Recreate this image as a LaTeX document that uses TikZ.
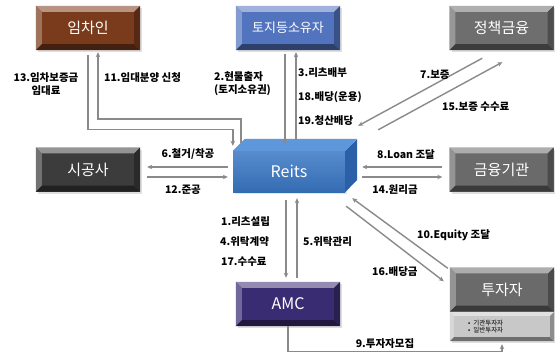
\documentclass[tikz,border=0pt]{standalone}
\usepackage{fontspec}
\setmainfont{Noto Sans CJK KR}
\usetikzlibrary{arrows.meta,shadows}
\definecolor{cBrown}{HTML}{7A3B1C}
\definecolor{cBlue}{HTML}{5274BE}
\definecolor{cPol}{HTML}{6E6E6E}
\definecolor{cDark}{HTML}{3C3C3C}
\definecolor{cBank}{HTML}{6A6A6A}
\definecolor{cAMC}{HTML}{3A2C72}
\definecolor{cInv}{HTML}{6A6A6A}
\definecolor{cSub}{HTML}{C8C8C8}
\definecolor{cLine}{HTML}{8A8A8A}
\definecolor{cRfront}{HTML}{3A78C6}
\definecolor{cRtop}{HTML}{5E97DA}
\definecolor{cRside}{HTML}{2B5FA8}
\newcommand\bevel[3]{%
 \fill[#2!55!white] (#1.north west) -- (#1.north east) -- ([xshift=-#3,yshift=-#3]#1.north east) -- ([xshift=#3,yshift=-#3]#1.north west) -- cycle;
 \fill[#2!72!white] (#1.north west) -- ([xshift=#3,yshift=-#3]#1.north west) -- ([xshift=#3,yshift=#3]#1.south west) -- (#1.south west) -- cycle;
 \fill[#2!55!black] (#1.south west) -- ([xshift=#3,yshift=#3]#1.south west) -- ([xshift=-#3,yshift=#3]#1.south east) -- (#1.south east) -- cycle;
 \fill[#2!70!black] (#1.north east) -- (#1.south east) -- ([xshift=-#3,yshift=#3]#1.south east) -- ([xshift=-#3,yshift=-#3]#1.north east) -- cycle;
}
\begin{document}
\begin{tikzpicture}[x=1pt,y=-1pt,
  box/.style={minimum width=104pt, minimum height=44pt, inner sep=0pt, text=white,
    font=\fontsize{15}{17}\selectfont,
    drop shadow={shadow xshift=2pt, shadow yshift=-2pt, opacity=0.25}},
  sub/.style={minimum width=104pt, minimum height=29pt, inner sep=0pt, fill=cSub,
    font=\fontsize{6.5}{8}\selectfont, align=left,
    drop shadow={shadow xshift=2pt, shadow yshift=-2pt, opacity=0.25}},
  arr/.style={draw=cLine, line width=1.4pt, -{Stealth[length=5pt,width=4.5pt]}},
  lbl/.style={inner sep=0pt, font=\fontsize{10.5}{13}\selectfont\bfseries, text=black}]
\useasboundingbox (0,0) rectangle (555,354);
\fill[white] (0,0) rectangle (555,354);

% boxes
\node[box, fill=cBrown] (tenant) at (88,28) {임차인};
\bevel{tenant}{cBrown}{6pt}
\node[box, fill=cBlue, font=\fontsize{13}{15}\selectfont] (owner) at (288,28) {토지등소유자};
\bevel{owner}{cBlue}{6pt}
\node[box, fill=cPol] (policy) at (501.5,28) {정책금융};
\bevel{policy}{cPol}{6pt}
\node[box, fill=cDark] (builder) at (88,169.5) {시공사};
\bevel{builder}{cDark}{6pt}
\node[box, fill=cBank] (bank) at (501.5,169.5) {금융기관};
\bevel{bank}{cBank}{6pt}
\node[box, fill=cAMC, font=\fontsize{16}{18}\selectfont] (amc) at (288,304) {AMC};
\bevel{amc}{cAMC}{6pt}
\node[box, fill=cInv] (inv) at (502,289.5) {투자자};
\bevel{inv}{cInv}{6pt}
\node[sub] (invsub) at (502,326.5) {};
\bevel{invsub}{cSub}{4pt}
\node[inner sep=0pt, font=\fontsize{6.5}{8}\selectfont, align=left, anchor=west] (invtxt) at (468,327) {•\ \ 기관투자자\\[-1pt]•\ \ 일반투자자};

% Reits cube
\node[minimum width=112pt, minimum height=41pt, inner sep=0pt, top color=cRfront!85!white, bottom color=cRfront!90!black,
  text=white, font=\fontsize{16}{18}\selectfont,
  drop shadow={shadow xshift=2pt, shadow yshift=-2pt, opacity=0.2}] (reits) at (289,171.5) {Reits};
\fill[cRtop] (reits.north west) -- ++(12,-12) -- ++(112,0) -- (reits.north east) -- cycle;
\fill[cRside] (reits.north east) -- ++(12,-12) -- ++(0,41) -- (reits.south east) -- cycle;

% connectors
\draw[arr] ([yshift=-5pt]tenant.south) -- ++(0,74) -| ([yshift=5pt]reits.north west);
\draw[arr] ([xshift=8pt,yshift=8pt]reits.north west) -- ++(0,-24) -| ([xshift=10pt,yshift=-2pt]tenant.south);
\draw[arr] ([xshift=-3pt,yshift=-4pt]owner.south) -- ++(0,90);
\draw[arr] ([xshift=7pt,yshift=11pt]reits.north) -- ([xshift=8pt,yshift=-2pt]owner.south);
\draw[arr] ([xshift=33pt,yshift=-8pt]policy.south west) -- ([xshift=13pt,yshift=25pt]reits.north east);
\draw[arr] ([xshift=33pt,yshift=21pt]reits.north east) -- ([xshift=53pt,yshift=-12pt]policy.south west);
\draw[arr] ([xshift=-5pt,yshift=4.5pt]reits.west) -- ([xshift=7pt,yshift=2.5pt]builder.east);
\draw[arr] ([xshift=7pt,yshift=-7.5pt]builder.east) -- ([xshift=-5pt,yshift=-5.5pt]reits.west);
\draw[arr] ([xshift=-7pt,yshift=2.5pt]bank.west) -- ([xshift=17pt,yshift=4.5pt]reits.east);
\draw[arr] ([xshift=17pt,yshift=-5.5pt]reits.east) -- ([xshift=-7pt,yshift=-7.5pt]bank.west);
\draw[arr] ([xshift=-3pt,yshift=-8pt]reits.south) -- ([xshift=-2pt,yshift=4pt]amc.north);
\draw[arr] ([xshift=9pt,yshift=4pt]amc.north) -- ([xshift=8pt,yshift=-6pt]reits.south);
\draw[arr] ([xshift=-2pt,yshift=-1pt]inv.north west) -- ([xshift=7pt,yshift=-6pt]reits.south east);
\draw[arr] ([xshift=1pt,yshift=-14pt]reits.south east) -- ([xshift=-6pt,yshift=-14pt]inv.north west);
\draw[arr] (amc.south) -- ++(0,25) -| ([yshift=-3pt]invsub.south);

% labels
\node[lbl, align=center] (l13) at (46,84) {13.임차보증금\\임대료};
\node[lbl, anchor=west] (l11) at (104,78) {11.임대분양 신청};
\node[lbl, align=left, anchor=west] (l2) at (214,84) {2.현물출자\\(토지소유권)};
\node[lbl, anchor=west] (l3) at (298,73) {3.리츠배부};
\node[lbl, anchor=west] (l18) at (298,97) {18.배당(운용)};
\node[lbl, anchor=west] (l19) at (298,121) {19.청산배당};
\node[lbl, anchor=west] (l7) at (420,75) {7.보증};
\node[lbl, anchor=west] (l15) at (442,107) {15.보증 수수료};
\node[lbl] (l6) at (188,154) {6.철거/착공};
\node[lbl] (l12) at (183,190) {12.준공};
\node[lbl] (l8) at (406,155) {8.Loan 조달};
\node[lbl] (l14) at (395,190) {14.원리금};
\node[lbl, anchor=west] (l1) at (221,222) {1.리츠설립};
\node[lbl, anchor=west] (l4) at (220,242) {4.위탁계약};
\node[lbl, anchor=west] (l17) at (221,262) {17.수수료};
\node[lbl, anchor=west] (l5) at (303,242) {5.위탁관리};
\node[lbl, anchor=west] (l10) at (417,235) {10.Equity 조달};
\node[lbl, anchor=west] (l16) at (372,272) {16.배당금};
\node[lbl] (l9) at (385,344) {9.투자자모집};
\end{tikzpicture}
\end{document}
